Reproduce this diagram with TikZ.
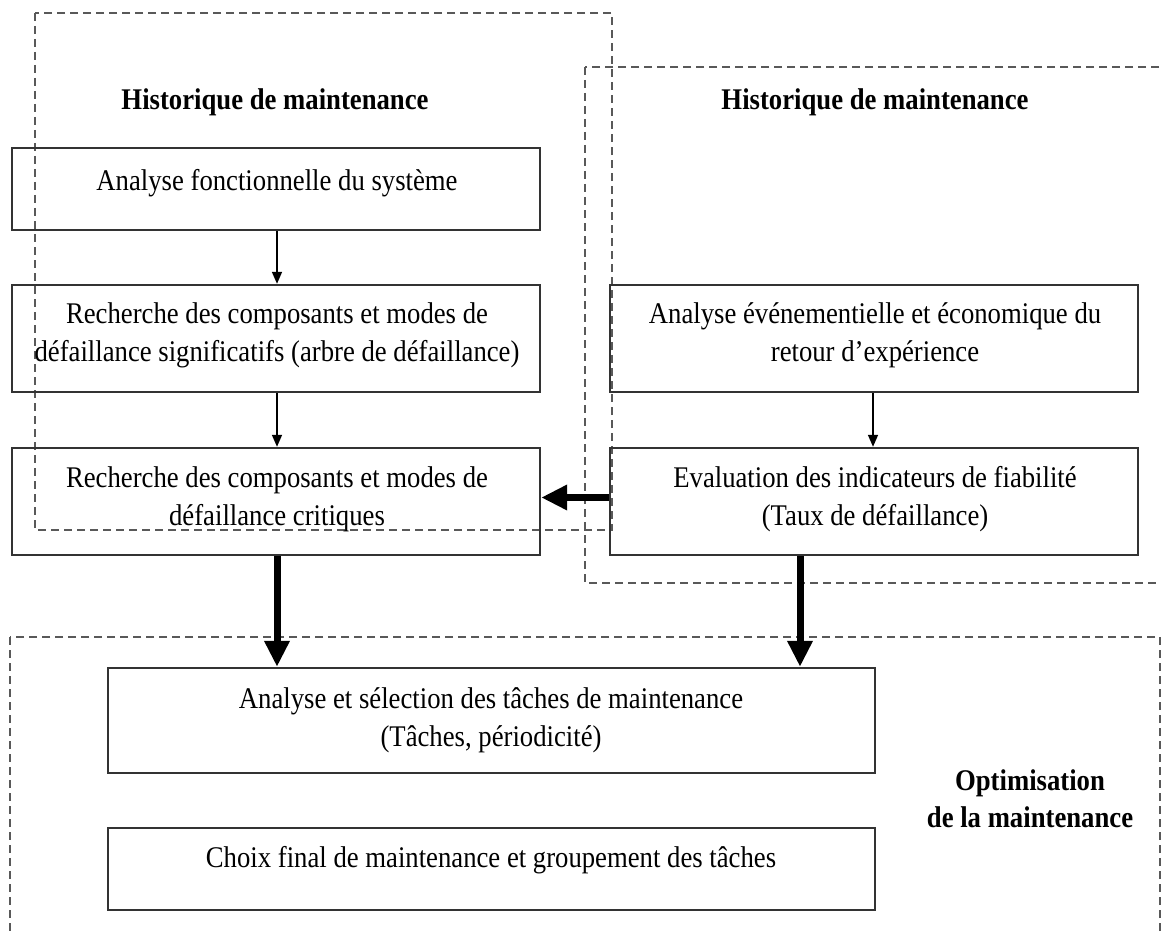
\documentclass[tikz,border=0pt]{standalone}
\usepackage{fontspec}
\setmainfont{Liberation Serif}[FakeStretch=0.89]
\usetikzlibrary{arrows.meta}
\begin{document}
\begin{tikzpicture}[x=1pt,y=-1pt,
  group/.style={draw=black!65, line width=2pt, dash pattern=on 8pt off 5pt},
  box/.style={draw=black!80, line width=2.4pt, inner sep=0pt},
  txt/.style={align=center, inner sep=0pt, font=\fontsize{30}{38}\selectfont},
  title/.style={txt, font=\fontsize{30}{37}\selectfont\bfseries},
  thin arrow/.style={line width=1.6pt, -{Triangle[length=12pt,width=10pt]}},
  thick arrow/.style={line width=7pt, -{Triangle[length=26pt,width=24pt]}}]
\useasboundingbox (0,0) rectangle (1161,936);

% grouping frames
\draw[group] (35,13) rectangle (612,530);
\draw[group] (585,67) rectangle (1175,583);
\draw[group] (10,637) rectangle (1160,950);

% frame titles
\node[title] (hl) at (275,102) {Historique de maintenance};
\node[title] (hr) at (875,102) {Historique de maintenance};
\node[title] (opt) at (1030,799) {Optimisation\\de la maintenance};

% process boxes
\node[box, minimum width=528, minimum height=82] (a1) at (276,189) {};
\node[box, minimum width=528, minimum height=107] (a2) at (276,338.5) {};
\node[box, minimum width=528, minimum height=107] (a3) at (276,501.5) {};
\node[box, minimum width=528, minimum height=107] (b1) at (874,338.5) {};
\node[box, minimum width=528, minimum height=107] (b2) at (874,501.5) {};
\node[box, minimum width=767, minimum height=105] (c1) at (491.5,720.5) {};
\node[box, minimum width=767, minimum height=82] (c2) at (491.5,869) {};

% box texts
\node[txt] (a1t) at (277,183) {Analyse fonctionnelle du système};
\node[txt] (a2t) at (277,335) {Recherche des composants et modes de\\défaillance significatifs (arbre de défaillance)};
\node[txt] (a3t) at (277,499) {Recherche des composants et modes de\\défaillance critiques};
\node[txt] (b1t) at (875,335) {Analyse événementielle et économique du\\retour d’expérience};
\node[txt] (b2t) at (875,499) {Evaluation des indicateurs de fiabilité\\(Taux de défaillance)};
\node[txt] (c1t) at (491,720) {Analyse et sélection des tâches de maintenance\\(Tâches, périodicité)};
\node[txt] (c2t) at (491,860) {Choix final de maintenance et groupement des tâches};

% connectors
\draw[thin arrow] ([xshift=1pt]a1.south) -- ([xshift=1pt]a2.north);
\draw[thin arrow] ([xshift=1pt]a2.south) -- ([xshift=1pt]a3.north);
\draw[thin arrow] ([xshift=-1pt]b1.south) -- ([xshift=-1pt]b2.north);
\draw[thick arrow] ([yshift=4pt]b2.west) -- ([yshift=4pt]a3.east);
\draw[thick arrow] ([xshift=1pt]a3.south) -- ([xshift=1pt]a3.south |- c1.north);
\draw[thick arrow] ([xshift=-74pt]b2.south) -- ([xshift=-74pt]b2.south |- c1.north);
\end{tikzpicture}
\end{document}
